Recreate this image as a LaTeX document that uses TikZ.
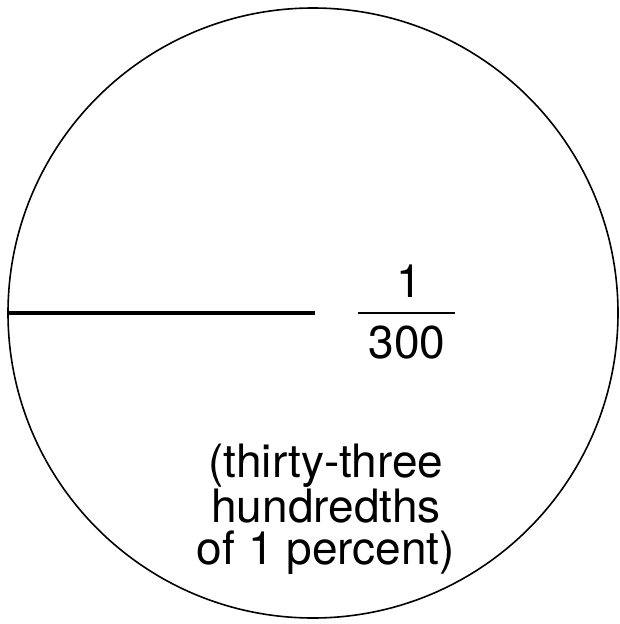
\documentclass[tikz,border=0pt]{standalone}
\usepackage{fontspec}
\setmainfont{TeX Gyre Heros}
\tikzset{
  pctdisk/.style={draw, circle, line width=1.6pt, minimum size=610pt, inner sep=0pt},
  pctbar/.style={line width=4.5pt},
  pctfrac/.style={line width=1.8pt},
  pctlab/.style={font=\fontsize{46}{42}\selectfont, inner sep=0pt, align=center}
}
\begin{document}
\begin{tikzpicture}[x=1pt,y=1pt]
        \useasboundingbox (0,0) rectangle (620,-624);

        \node[pctdisk] (disk) at (313,-313) {};
        \coordinate (cut) at (315,-313);
        \draw[pctbar] (disk.west) -- (cut);

        \node[pctlab] (num) at (409,-281) {1};
        \node[pctlab] (den) at (407,-343) {300};
        \coordinate (barl) at (358,-313);
        \coordinate (barr) at (455,-313);
        \draw[pctfrac] (barl) -- (barr);

        \node[pctlab] (note) at (326,-509) {(thirty-three\\hundredths\\of 1 percent)};
    \end{tikzpicture}
\end{document}
